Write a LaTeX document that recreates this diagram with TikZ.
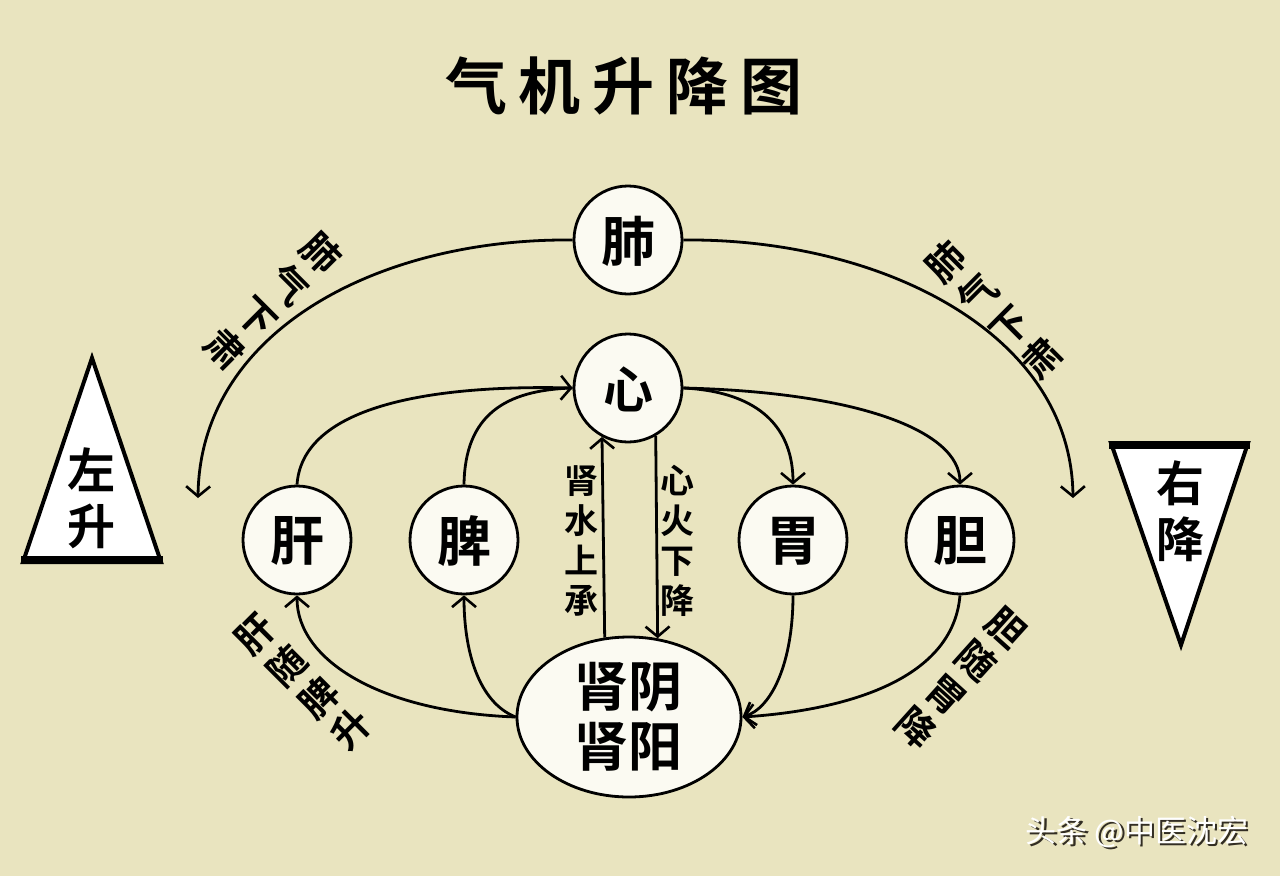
\documentclass[tikz,border=0pt]{standalone}
\usepackage{fontspec}
\usetikzlibrary{arrows.meta,shapes.geometric}
\newfontfamily\cjk{Noto Sans CJK SC}[BoldFont={Noto Sans CJK SC Bold}]
\definecolor{bgc}{RGB}{233,228,191}
\definecolor{orgfill}{RGB}{251,250,242}
\definecolor{shadowc}{RGB}{50,45,35}
\tikzset{
  organ/.style={circle,draw=black,line width=2.8pt,fill=orgfill,minimum size=108pt,inner sep=0pt},
  kidney/.style={ellipse,draw=black,line width=2.8pt,fill=orgfill,minimum width=224pt,minimum height=160pt,inner sep=0pt},
  organtxt/.style={font=\cjk\bfseries\fontsize{54}{60}\selectfont,inner sep=0pt,align=center},
  flow/.style={line width=2.8pt,-{Straight Barb[length=10pt,width=24pt,line width=2.6pt]}},
  lab/.style={font=\cjk\bfseries\fontsize{38}{45}\selectfont,inner sep=0pt,align=center},
  inlab/.style={font=\cjk\bfseries\fontsize{34}{40}\selectfont,inner sep=0pt,align=center},
  trilab/.style={font=\cjk\bfseries\fontsize{48}{56}\selectfont,inner sep=0pt,align=center},
}
\begin{document}
\begin{tikzpicture}[x=1pt,y=-1pt]
\fill[bgc] (0,0) rectangle (1280,876);
\useasboundingbox (0,0) rectangle (1280,876);
% title
\node[font=\cjk\bfseries\fontsize{62}{66}\selectfont,inner sep=0pt] (title) at (624,86)
  {气\hspace{12pt}机\hspace{12pt}升\hspace{12pt}降\hspace{12pt}图};
% organs
\node[organ] (fei) at (628,240) {};
\node[organtxt] (feit) at (628,241) {肺};
\node[organ] (xin) at (628,388) {};
\node[organtxt,font=\cjk\bfseries\fontsize{50}{56}\selectfont] (xint) at (628,389) {心};
\node[organ] (gan) at (297,540) {};
\node[organtxt] (gant) at (297,541) {肝};
\node[organ] (pi) at (464,540) {};
\node[organtxt] (pit) at (464,541) {脾};
\node[organ] (wei) at (793,540) {};
\node[organtxt] (weit) at (793,541) {胃};
\node[organ] (dan) at (960,540) {};
\node[organtxt] (dant) at (960,541) {胆};
\node[kidney] (kid) at (629,717) {};
\node[organtxt] (kidt) at (628,717) {肾阴\\肾阳};
% free ends
\coordinate (lend) at (198,498);
\coordinate (rend) at (1073,498);
% connectors
\draw[flow] (fei.west) .. controls (380,238) and (200,330) .. (lend);
\draw[flow] (fei.east) .. controls (876,238) and (1071,330) .. (rend);
\draw[flow] (gan.north) .. controls (303,400) and (450,385) .. (xin.west);
\draw[line width=2.8pt] (pi.north) .. controls (465,415) and (505,390) .. (xin.west);
\draw[flow] (xin.east) .. controls (762,392) and (793,430) .. (wei.north);
\draw[flow] (xin.east) .. controls (855,392) and (960,430) .. (dan.north);
\draw[flow] (kid.107.8) -- (xin.242.4);
\draw[flow] (xin.300) -- (kid.70.8);
\draw[flow] (kid.west) .. controls (380,712) and (297,660) .. (gan.south);
\draw[flow] (kid.west) .. controls (478,702) and (464,650) .. (pi.south);
\draw[flow] (wei.south) .. controls (793,662) and (772,708) .. (kid.east);
\draw[flow] (dan.south) .. controls (952,690) and (820,712) .. (kid.east);
% labels
\node[lab,rotate=-45] (l1) at (273,301) {肺\\气\\下\\肃};
\node[lab,rotate=45] (l2) at (994,310) {肺\\气\\下\\肃};
\node[lab,rotate=45] (l3) at (303,682) {肝\\随\\脾\\升};
\node[lab,rotate=-42] (l4) at (961,678) {胆\\随\\胃\\降};
\node[inlab] (l5) at (581,541) {肾\\水\\上\\承};
\node[inlab] (l6) at (677,541) {心\\火\\下\\降};
% triangles
\draw[line width=4pt,line join=miter,fill=white] (92,358) -- (161,562) -- (23,562) -- cycle;
\draw[line width=8pt] (21,560) -- (163,560);
\node[trilab] (zs) at (91,498) {左\\升};
\draw[line width=4pt,line join=miter,fill=white] (1111,443) -- (1248,443) -- (1181,645) -- cycle;
\draw[line width=8pt] (1109,445) -- (1250,445);
\node[trilab] (yj) at (1180,511) {右\\降};
% watermark
\node[font=\cjk\fontsize{31}{34}\selectfont,text=shadowc,inner sep=0pt] (wms) at (1139.5,834.5) {头条 @中医沈宏};
\node[font=\cjk\fontsize{31}{34}\selectfont,text=white,inner sep=0pt] (wm) at (1137,832) {头条 @中医沈宏};
\end{tikzpicture}
\end{document}
